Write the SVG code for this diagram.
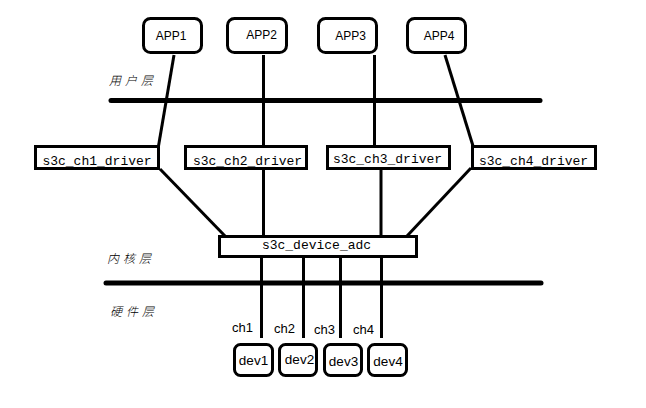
<svg xmlns="http://www.w3.org/2000/svg" width="646" height="408" viewBox="0 0 646 408">
<style>
.box{fill:#fff;stroke:#000;stroke-width:3}
.ln{stroke:#000;stroke-width:3;fill:none}
.bar{stroke:#000;stroke-width:5;stroke-linecap:round}
.app{font-family:"Liberation Sans",Arial,sans-serif;font-size:12px;text-anchor:middle;fill:#000}
.drv{font-family:"Liberation Mono","DejaVu Sans Mono",monospace;font-size:13px;text-anchor:middle;fill:#000}
.dev{font-family:"Liberation Sans",Arial,sans-serif;font-size:13.5px;text-anchor:middle;fill:#000}
.ch{font-family:"Liberation Sans",Arial,sans-serif;font-size:13px;fill:#000}
.cn{font-family:"Noto Sans CJK SC",sans-serif;font-size:12px;font-weight:300;font-style:italic;letter-spacing:4px;fill:#000}
</style>
<rect width="646" height="408" fill="#fff"/>
<g id="layers">
<line class="bar" x1="111" y1="100.5" x2="540" y2="100.5"/>
<line class="bar" x1="106" y1="283" x2="541" y2="283"/>
<text class="cn" x="109" y="85">用户层</text>
<text class="cn" x="107" y="263">内核层</text>
<text class="cn" x="110" y="316">硬件层</text>
</g>
<g id="connectors">
<line class="ln" x1="174" y1="55" x2="158.5" y2="146"/>
<line class="ln" x1="263.5" y1="55" x2="263.5" y2="146"/>
<line class="ln" x1="374.5" y1="55" x2="374.5" y2="146"/>
<line class="ln" x1="445" y1="55" x2="473" y2="146"/>
<line class="ln" x1="160" y1="169" x2="225" y2="236"/>
<line class="ln" x1="263.5" y1="170" x2="263.5" y2="236"/>
<line class="ln" x1="381" y1="170" x2="381" y2="236"/>
<line class="ln" x1="471" y1="168" x2="407" y2="236"/>
<line class="ln" x1="261.5" y1="258" x2="261.5" y2="338"/>
<line class="ln" x1="303.5" y1="258" x2="303.5" y2="338"/>
<line class="ln" x1="340.5" y1="258" x2="340.5" y2="338"/>
<line class="ln" x1="381.5" y1="258" x2="381.5" y2="338"/>
<text class="ch" x="232" y="332">ch1</text>
<text class="ch" x="274" y="333">ch2</text>
<text class="ch" x="314" y="334">ch3</text>
<text class="ch" x="353" y="334">ch4</text>
</g>
<g id="app1"><rect class="box" x="143.5" y="18.5" width="58" height="34" rx="7"/><text class="app" x="171" y="40">APP1</text></g>
<g id="app2"><rect class="box" x="227.5" y="18.5" width="59" height="34" rx="7"/><text class="app" x="261.5" y="39">APP2</text></g>
<g id="app3"><rect class="box" x="318.5" y="18.5" width="58" height="34" rx="7"/><text class="app" x="350.5" y="40">APP3</text></g>
<g id="app4"><rect class="box" x="407.5" y="18.5" width="58" height="34" rx="7"/><text class="app" x="439" y="40">APP4</text></g>
<g id="drv1"><rect class="box" x="35.5" y="146.5" width="123" height="22"/><text class="drv" x="97" y="165">s3c_ch1_driver</text></g>
<g id="drv2"><rect class="box" x="185.5" y="146.5" width="121" height="22"/><text class="drv" x="247.5" y="165">s3c_ch2_driver</text></g>
<g id="drv3"><rect class="box" x="327.5" y="146.5" width="122" height="22"/><text class="drv" x="387.5" y="163">s3c_ch3_driver</text></g>
<g id="drv4"><rect class="box" x="472.5" y="146.5" width="123" height="22"/><text class="drv" x="533.5" y="165">s3c_ch4_driver</text></g>
<g id="adc"><rect class="box" x="219.5" y="236.5" width="197" height="20"/><text class="drv" x="316.5" y="249">s3c_device_adc</text></g>
<g id="dev1"><rect class="box" x="234.5" y="344.5" width="38" height="31" rx="6"/><text class="dev" x="253.5" y="365">dev1</text></g>
<g id="dev2"><rect class="box" x="279.5" y="344.5" width="37" height="31" rx="6"/><text class="dev" x="299.5" y="364">dev2</text></g>
<g id="dev3"><rect class="box" x="324.5" y="344.5" width="37" height="31" rx="6"/><text class="dev" x="343.5" y="366">dev3</text></g>
<g id="dev4"><rect class="box" x="368.5" y="344.5" width="38" height="31" rx="6"/><text class="dev" x="388" y="366">dev4</text></g>
</svg>
